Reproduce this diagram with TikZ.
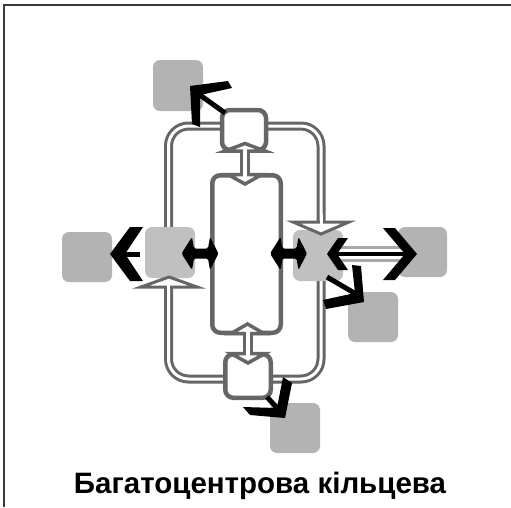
\documentclass[tikz,border=0pt]{standalone}
\usepackage{fontspec}
\setmainfont{Liberation Sans}
\definecolor{edgegray}{HTML}{666666}
\definecolor{ringboxgray}{HTML}{C0C0C0}
\definecolor{outboxgray}{HTML}{B3B3B3}
\definecolor{lightrim}{HTML}{A8A8A8}
\definecolor{framegray}{HTML}{3A3A3A}
\tikzset{
  whitebox/.style={draw=edgegray, line width=4.5pt, fill=white, rounded corners=8pt, inner sep=0pt, outer sep=0pt},
  ringbox/.style={fill=ringboxgray, rounded corners=7pt, inner sep=0pt, outer sep=0pt, minimum width=50pt, minimum height=51pt},
  outbox/.style={fill=outboxgray, rounded corners=7pt, inner sep=0pt, outer sep=0pt, minimum width=50pt, minimum height=50pt},
  ringouter/.style={draw=edgegray, line width=9pt},
  ringinner/.style={draw=white, line width=3pt},
  hollowhead/.style={fill=white, draw=edgegray, line width=3.5pt, line join=miter},
  shaftouter/.style={draw=edgegray, line width=10pt},
  shaftinner/.style={draw=white, line width=4pt},
  blackshaft/.style={draw=black, line width=5pt},
  chevron/.style={fill=black},
  dblarrow/.style={fill=black, rounded corners=1.5pt},
  title/.style={font=\bfseries\fontsize{29.5}{32}\selectfont, anchor=base, inner sep=0pt}
}
\begin{document}
\begin{tikzpicture}[x=1pt,y=-1pt]
\useasboundingbox (0,0) rectangle (511,507);
% frame
\draw[framegray, line width=2pt] (3.7,507) -- (3.7,5) -- (511,5);
% ring
\draw[ringouter, rounded corners=20pt] (168.5,126) rectangle (321,379);
\draw[ringinner, rounded corners=20pt] (168.5,126) rectangle (321,379);
% boxes
\node[whitebox, minimum width=44pt, minimum height=40pt] (topbox) at (244,130) {};
\node[whitebox, minimum width=68.5pt, minimum height=157.5pt] (center) at (246.5,254) {};
\node[whitebox, minimum width=45.5pt, minimum height=43.5pt] (botbox) at (248,376) {};
\node[ringbox] (leftbox) at (170,252.5) {};
\node[ringbox] (rightbox) at (318,255.5) {};
\node[outbox] (farleft) at (87,257) {};
\node[outbox, minimum width=49pt] (farright) at (422.5,252) {};
\node[outbox, minimum height=51pt] (topleft) at (178,85.5) {};
\node[outbox] (lowright) at (373,317) {};
\node[outbox] (botright) at (295,428) {};
% vertical hollow double connectors (top box <-> centre <-> bottom box)
\coordinate (ta) at (245,151);
\coordinate (tb) at (245,174.5);
\coordinate (ba) at (247.5,333.5);
\coordinate (bb) at (247.5,353.5);
\draw[shaftouter] (ta) -- (tb);
\draw[shaftouter] (ba) -- (bb);
\draw[hollowhead] (225,151) -- (245,143.5) -- (265,151) -- cycle;
\draw[hollowhead] (228,174.5) -- (245,184) -- (262,174.5) -- cycle;
\draw[hollowhead] (231,333.5) -- (247.5,324) -- (264,333.5) -- cycle;
\draw[hollowhead] (231,353.5) -- (248,363) -- (265,353.5) -- cycle;
\draw[shaftinner] (245,147) -- (245,180);
\draw[shaftinner] (247.5,328) -- (247.5,359);
% hollow heads on the ring
\draw[hollowhead, line width=3pt] (293,222) -- (321,234) -- (349,222) -- cycle;
\draw[hollowhead, line width=3pt] (141,287) -- (169,277) -- (197,287) -- cycle;
\coordinate (ra) at (321,214);
\coordinate (rb) at (321,228);
\coordinate (la) at (168.5,282);
\coordinate (lb) at (168.5,295);
\draw[ringinner] (ra) -- (rb);
\draw[ringinner] (la) -- (lb);
% black double arrows between ring boxes and centre
\fill[dblarrow] (181.5,253.5) -- (192,237) -- (194,248.5) -- (208,248.5) -- (210,237) -- (218.5,253.5)
   -- (210,270) -- (208,258.5) -- (194,258.5) -- (192,270) -- cycle;
\fill[dblarrow] (270,253.5) -- (280.5,237) -- (282.5,248.5) -- (296.5,248.5) -- (298.5,237) -- (307,253.5)
   -- (298.5,270) -- (296.5,258.5) -- (282.5,258.5) -- (280.5,270) -- cycle;
% far left arrow
\coordinate (fl1) at (140,254);
\coordinate (fl2) at (124,254);
\draw[blackshaft] (fl1) -- (fl2);
\fill[chevron] (110,254) -- (130,227) -- (143,227) -- (125,254) -- (143,281) -- (130,281) -- cycle;
% right horizontal connector
\coordinate (h1) at (336,254);
\coordinate (h2) at (406,254);
\draw[draw=lightrim, line width=16pt] (h1) -- (h2);
\draw[draw=white, line width=10pt] (h1) -- (h2);
\draw[draw=black, line width=4pt] (h1) -- (h2);
\fill[chevron] (327,254) -- (338,238) -- (348,238) -- (337,254) -- (348,270) -- (338,270) -- cycle;
\fill[chevron] (417,254) -- (395,228) -- (383,228) -- (405,254) -- (383,280) -- (395,280) -- cycle;
% lower right arrow
\coordinate (lr1) at (327,277);
\coordinate (lr2) at (356,294);
\draw[blackshaft] (lr1) -- (lr2);
\fill[chevron] (364,302) -- (361,266) -- (352,265) -- (355,293) -- (323,300) -- (326,309) -- cycle;
% top left arrow
\coordinate (tl1) at (225,113);
\coordinate (tl2) at (200,95);
\draw[blackshaft] (tl1) -- (tl2);
\fill[chevron] (190,86) -- (228,81) -- (232,88) -- (200,95) -- (200,127) -- (192,124) -- cycle;
% bottom right arrow
\coordinate (br1) at (267,397);
\coordinate (br2) at (278,409);
\draw[blackshaft] (br1) -- (br2);
\fill[chevron] (285,418) -- (292,383) -- (283,377) -- (277,408) -- (243,407) -- (250,415) -- cycle;
% title
\node[title] (caption) at (260,493) {Багатоцентрова кільцева};
\end{tikzpicture}
\end{document}
